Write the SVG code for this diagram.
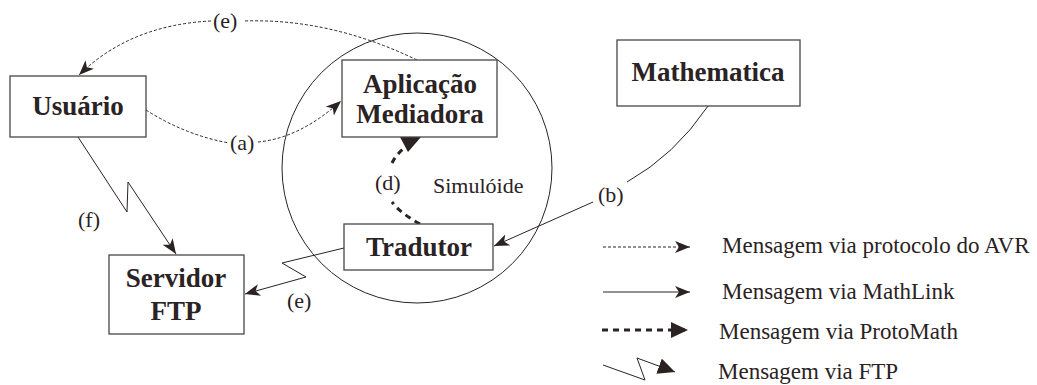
<svg xmlns="http://www.w3.org/2000/svg" width="1037" height="385" viewBox="0 0 1037 385">
<style>
.box{fill:#fff;stroke:#4a4546;stroke-width:1.3}
.bt{font-family:"Liberation Serif",serif;font-weight:bold;font-size:27px;fill:#2a2223;text-anchor:middle}
.lb{font-family:"Liberation Serif",serif;font-size:22px;fill:#2a2223}
.lg{font-family:"Liberation Serif",serif;font-size:23px;fill:#2a2223}
.thin{fill:none;stroke:#2a2223;stroke-width:1}
.dot{fill:none;stroke:#2a2223;stroke-width:1;stroke-dasharray:3 2}
.thick{fill:none;stroke:#2a2223;stroke-width:3;stroke-dasharray:6 5}
</style>
<defs>
<marker id="ah" markerUnits="userSpaceOnUse" markerWidth="16" markerHeight="12" refX="15" refY="6" orient="auto">
<path d="M0,0 L15,6 L0,12 L4,6 Z" fill="#2a2223"/>
</marker>
<marker id="ahb" markerUnits="userSpaceOnUse" markerWidth="18" markerHeight="16" refX="17" refY="8" orient="auto">
<path d="M0,0 L17,8 L0,16 Z" fill="#2a2223"/>
</marker>
</defs>
<rect width="1037" height="385" fill="#fff"/>
<g id="simuloide">
<circle cx="417" cy="168" r="135" fill="none" stroke="#2a2223" stroke-width="1"/>
<text class="lb" x="433" y="193">Simulóide</text>
</g>
<g id="connectors">
<path class="dot" d="M417,60 Q330,18 244,21"/>
<path class="dot" d="M211,21 Q130,25 79,75" marker-end="url(#ah)"/>
<text class="lb" x="213" y="28">(e)</text>
<path class="dot" d="M146,110 Q185,135 229,143"/>
<path class="dot" d="M258,142 Q300,138 341,101" marker-end="url(#ah)"/>
<text class="lb" x="230" y="150">(a)</text>
<path class="thick" d="M420,224 Q400,213 392,202"/>
<path class="thick" d="M392,163 Q396,155 404,148"/>
<polygon points="400,137 421,137 408,152" fill="#2a2223"/>
<text class="lb" x="375" y="190">(d)</text>
<path class="thin" d="M708,106 Q675,155 627,182"/>
<path class="thin" d="M593,202 L494,246" marker-end="url(#ah)"/>
<text class="lb" x="598" y="202">(b)</text>
<path class="thin" d="M78,137 L127,212 L128,182 L176,254" marker-end="url(#ah)"/>
<text class="lb" x="78" y="227">(f)</text>
<path class="thin" d="M344,248 L282,263 L306,277 L245,294" marker-end="url(#ah)"/>
<text class="lb" x="287" y="308">(e)</text>
</g>
<g id="usuario">
<rect class="box" x="10" y="76" width="136" height="61"/>
<text class="bt" x="78" y="115">Usuário</text>
</g>
<g id="aplicacao">
<rect class="box" x="342" y="60" width="155" height="77"/>
<text class="bt" x="420" y="93">Aplicação</text>
<text class="bt" x="420" y="123">Mediadora</text>
</g>
<g id="mathematica">
<rect class="box" x="617" y="40" width="183" height="66"/>
<text class="bt" x="708" y="81">Mathematica</text>
</g>
<g id="tradutor">
<rect class="box" x="344" y="224" width="149" height="46"/>
<text class="bt" x="419" y="256">Tradutor</text>
</g>
<g id="servidor">
<rect class="box" x="109" y="255" width="135" height="79"/>
<text class="bt" x="176" y="287">Servidor</text>
<text class="bt" x="176" y="320">FTP</text>
</g>
<g id="legend">
<path class="dot" d="M603,247 L690,247" marker-end="url(#ah)"/>
<text class="lg" x="722" y="253">Mensagem via protocolo do AVR</text>
<path class="thin" d="M603,292 L690,292" marker-end="url(#ah)"/>
<text class="lg" x="722" y="299">Mensagem via MathLink</text>
<path class="thick" d="M602,330 L688,330" marker-end="url(#ahb)"/>
<text class="lg" x="719" y="339">Mensagem via ProtoMath</text>
<path class="thin" d="M603,365 L645,380 L637,358 L675,372" marker-end="url(#ahb)"/>
<text class="lg" x="718" y="379">Mensagem via FTP</text>
</g>
</svg>
